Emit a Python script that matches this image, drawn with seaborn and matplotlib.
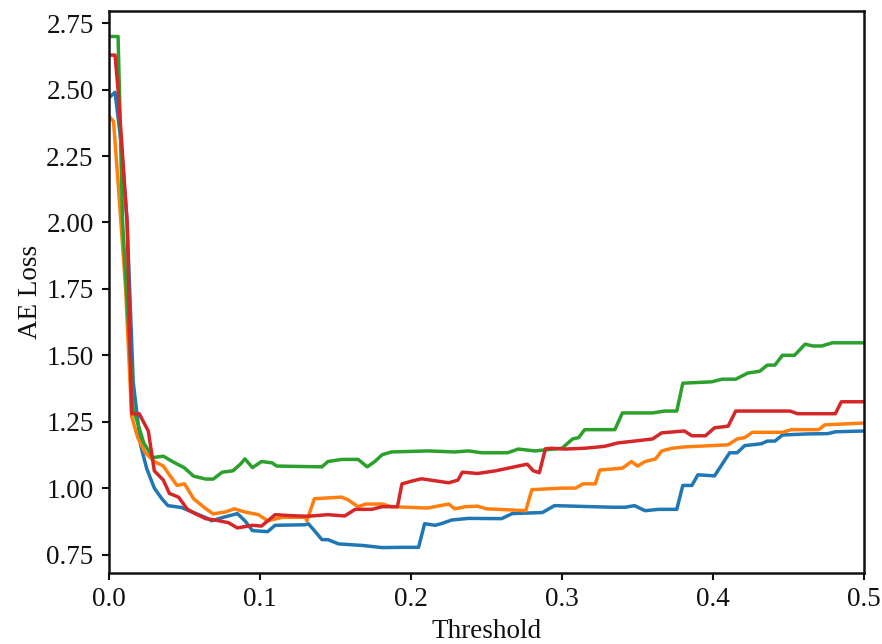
import matplotlib
matplotlib.use("Agg")
import matplotlib.pyplot as plt
import seaborn as sns

# ==============================
# DATA
# ==============================

blue_x = [0, 0.004, 0.008, 0.012, 0.016, 0.021, 0.025, 0.03, 0.035, 0.039,
          0.048, 0.055, 0.064, 0.068, 0.075, 0.085, 0.09, 0.095, 0.105, 0.11,
          0.13, 0.132, 0.136, 0.141, 0.145, 0.152, 0.168, 0.181, 0.194, 0.205,
          0.209, 0.216, 0.22, 0.227, 0.238, 0.26, 0.267, 0.287, 0.295, 0.333,
          0.342, 0.348, 0.355, 0.364, 0.376, 0.38, 0.386, 0.39, 0.401, 0.411,
          0.416, 0.421, 0.432, 0.436, 0.441, 0.446, 0.463, 0.476, 0.481, 0.5]
blue_y = [2.47, 2.49, 2.30, 2.0, 1.40, 1.16, 1.073, 1.0, 0.96, 0.934,
          0.927, 0.91, 0.889, 0.877, 0.889, 0.904, 0.877, 0.84, 0.836, 0.86,
          0.862, 0.866, 0.84, 0.806, 0.806, 0.79, 0.784, 0.776, 0.777, 0.777,
          0.866, 0.86, 0.866, 0.88, 0.886, 0.885, 0.904, 0.908, 0.934, 0.928,
          0.928, 0.934, 0.915, 0.92, 0.92, 1.01, 1.01, 1.05, 1.046, 1.133,
          1.133, 1.16, 1.167, 1.177, 1.177, 1.2, 1.204, 1.205, 1.212, 1.215]

orange_x = [0, 0.003, 0.006, 0.011, 0.015, 0.019, 0.024, 0.03, 0.036, 0.039,
            0.045, 0.05, 0.056, 0.064, 0.069, 0.077, 0.083, 0.09, 0.099, 0.105,
            0.115, 0.13, 0.131, 0.136, 0.154, 0.158, 0.165, 0.17, 0.181, 0.187,
            0.211, 0.225, 0.229, 0.236, 0.244, 0.25, 0.258, 0.276, 0.28, 0.3,
            0.309, 0.314, 0.322, 0.325, 0.34, 0.346, 0.35, 0.355, 0.362, 0.366,
            0.373, 0.381, 0.41, 0.416, 0.421, 0.426, 0.446, 0.452, 0.47, 0.474,
            0.5]
orange_y = [2.40, 2.38, 2.15, 1.75, 1.27, 1.19, 1.133, 1.10, 1.083, 1.058,
            1.01, 1.016, 0.96, 0.923, 0.903, 0.91, 0.922, 0.91, 0.90, 0.877,
            0.89, 0.89, 0.877, 0.96, 0.966, 0.957, 0.93, 0.94, 0.94, 0.93,
            0.925, 0.94, 0.922, 0.93, 0.932, 0.922, 0.92, 0.915, 0.994, 1.0,
            1.0, 1.016, 1.016, 1.068, 1.075, 1.1, 1.083, 1.1, 1.11, 1.14,
            1.15, 1.155, 1.163, 1.185, 1.19, 1.21, 1.21, 1.22, 1.22, 1.238,
            1.245]

green_x = [0, 0.006, 0.009, 0.013, 0.016, 0.023, 0.029, 0.036, 0.042, 0.05,
           0.056, 0.064, 0.069, 0.075, 0.082, 0.087, 0.09, 0.095, 0.101, 0.108,
           0.111, 0.141, 0.145, 0.154, 0.165, 0.171, 0.176, 0.181, 0.187, 0.211,
           0.229, 0.238, 0.247, 0.264, 0.271, 0.282, 0.3, 0.307, 0.311, 0.315,
           0.335, 0.34, 0.36, 0.368, 0.376, 0.38, 0.399, 0.406, 0.415, 0.423,
           0.431, 0.436, 0.441, 0.446, 0.454, 0.461, 0.466, 0.472, 0.479, 0.5]
green_y = [2.70, 2.70, 2.0, 1.6, 1.30, 1.17, 1.115, 1.12, 1.10, 1.076,
           1.045, 1.034, 1.034, 1.06, 1.065, 1.09, 1.11, 1.077, 1.10, 1.095,
           1.083, 1.08, 1.10, 1.108, 1.108, 1.08, 1.10, 1.126, 1.136, 1.14,
           1.136, 1.14, 1.133, 1.133, 1.147, 1.14, 1.15, 1.185, 1.19, 1.22,
           1.22, 1.283, 1.283, 1.29, 1.29, 1.395, 1.40, 1.41, 1.41, 1.433,
           1.44, 1.463, 1.463, 1.5, 1.5, 1.542, 1.535, 1.535, 1.547, 1.547]

red_x = [0, 0.004, 0.006, 0.012, 0.015, 0.02, 0.026, 0.03, 0.036, 0.04,
         0.046, 0.052, 0.057, 0.064, 0.07, 0.079, 0.085, 0.095, 0.101, 0.11,
         0.121, 0.132, 0.145, 0.156, 0.163, 0.174, 0.181, 0.191, 0.194, 0.203,
         0.207, 0.225, 0.231, 0.234, 0.244, 0.256, 0.271, 0.277, 0.281, 0.285,
         0.289, 0.293, 0.302, 0.315, 0.328, 0.337, 0.348, 0.36, 0.366, 0.381,
         0.386, 0.395, 0.401, 0.41, 0.415, 0.451, 0.456, 0.481, 0.485, 0.5]
red_y = [2.63, 2.63, 2.5, 2.0, 1.28, 1.28, 1.215, 1.065, 1.03, 0.98,
         0.966, 0.92, 0.904, 0.885, 0.88, 0.87, 0.85, 0.86, 0.857, 0.90,
         0.896, 0.894, 0.90, 0.895, 0.92, 0.92, 0.93, 0.93, 1.016, 1.03,
         1.035, 1.02, 1.03, 1.06, 1.055, 1.065, 1.083, 1.09, 1.065, 1.058,
         1.148, 1.15, 1.147, 1.15, 1.157, 1.17, 1.177, 1.185, 1.208, 1.215,
         1.197, 1.197, 1.227, 1.233, 1.29, 1.29, 1.28, 1.28, 1.325, 1.325]

series = [
    (blue_x, blue_y, "#1f77b4"),
    (orange_x, orange_y, "#ff7f0e"),
    (green_x, green_y, "#2ca02c"),
    (red_x, red_y, "#d62728"),
]

# ==============================
# STYLE
# ==============================

sns.set_style("ticks")
plt.rcParams["font.family"] = ["Liberation Serif", "DejaVu Serif"]
plt.rcParams["text.color"] = "#111111"
plt.rcParams["axes.labelcolor"] = "#111111"
plt.rcParams["xtick.color"] = "#111111"
plt.rcParams["ytick.color"] = "#111111"

fig = plt.figure(figsize=(8.82, 6.44), dpi=100)
ax = fig.add_axes([0.1236, 0.110, 0.856, 0.873])

# ==============================
# PLOT
# ==============================

for xs, ys, col in series:
    sns.lineplot(x=xs, y=ys, color=col, linewidth=2.5, estimator=None,
                 sort=False, ax=ax)

ax.set_xlim(0, 0.5)
ax.set_xticks([0.0, 0.1, 0.2, 0.3, 0.4, 0.5])
ax.set_xticklabels(["0.0", "0.1", "0.2", "0.3", "0.4", "0.5"])
ax.set_yticks([0.75, 1.00, 1.25, 1.50, 1.75, 2.00, 2.25, 2.50, 2.75])

ax.set_xlabel("Threshold", fontsize=19.5, labelpad=5)
ax.set_ylabel("AE Loss", fontsize=19.5, labelpad=2)
ax.tick_params(axis="both", labelsize=19.5, width=1.5, length=5)
ax.tick_params(axis="x", pad=5)
ax.tick_params(axis="y", pad=6)

for sp in ax.spines.values():
    sp.set_linewidth(1.8)
    sp.set_color("#111111")

fig.savefig("out.png", dpi=100)
